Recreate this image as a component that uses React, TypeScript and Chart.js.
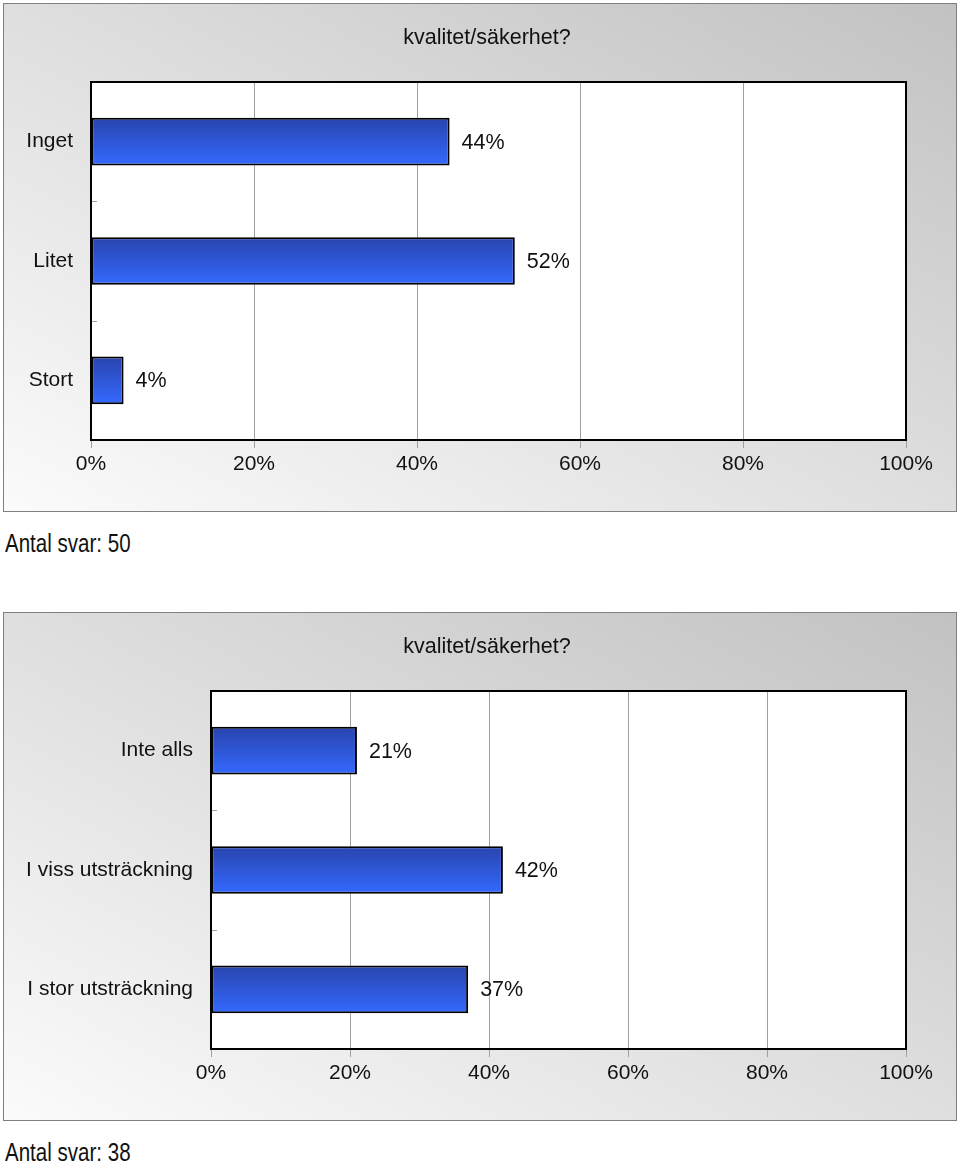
import React, { useEffect, useRef } from "react";
import { Chart, registerables } from "chart.js";

Chart.register(...registerables);

const TITLE = "kvalitet/säkerhet?";
const categories1 = ["Inget", "Litet", "Stort"];
const values1 = [44, 52, 4];
const respondents1 = 50;
const categories2 = ["Inte alls", "I viss utsträckning", "I stor utsträckning"];
const values2 = [21, 42, 37];
const respondents2 = 38;
const xTicks = [0, 20, 40, 60, 80, 100];

const FONT = "'Liberation Sans', Arial, Helvetica, sans-serif";

type PanelProps = {
  categories: string[];
  values: number[];
  leftWidth: number;
  top: number;
  respondents: number;
};

function BarPanel({ categories, values, leftWidth, top, respondents }: PanelProps) {
  const ref = useRef<HTMLCanvasElement>(null);
  useEffect(() => {
    const canvas = ref.current!;
    const bgPlugin = {
      id: "bgPlugin",
      beforeDraw(chart: any) {
        const { ctx, chartArea: a } = chart;
        ctx.save();
        ctx.fillStyle = "#ffffff";
        ctx.fillRect(a.left, a.top, a.right - a.left, a.bottom - a.top);
        ctx.restore();
      },
      beforeDatasetsDraw(chart: any) {
        const { ctx, chartArea: a } = chart;
        const ys = chart.scales.y;
        ctx.save();
        ctx.strokeStyle = "#a0a0a0";
        ctx.lineWidth = 1;
        for (let i = 0; i < categories.length - 1; i++) {
          const yb = Math.round((ys.getPixelForValue(i) + ys.getPixelForValue(i + 1)) / 2) + 0.5;
          ctx.beginPath();
          ctx.moveTo(a.left, yb);
          ctx.lineTo(a.left + 6, yb);
          ctx.stroke();
        }
        ctx.restore();
      },
      afterDraw(chart: any) {
        const { ctx, chartArea: a } = chart;
        ctx.save();
        ctx.strokeStyle = "#000";
        ctx.lineWidth = 2;
        ctx.strokeRect(a.left, a.top, a.right - a.left, a.bottom - a.top);
        ctx.restore();
      },
    };
    const labelPlugin = {
      id: "labelPlugin",
      afterDatasetsDraw(chart: any) {
        const { ctx } = chart;
        const meta = chart.getDatasetMeta(0);
        ctx.save();
        ctx.font = `21.5px ${FONT}`;
        ctx.fillStyle = "#111";
        ctx.textAlign = "left";
        ctx.textBaseline = "middle";
        meta.data.forEach((el: any, i: number) => {
          ctx.fillText(values[i] + "%", el.x + 12, el.y + 1);
        });
        ctx.restore();
      },
    };
    const chart = new Chart(canvas, {
      type: "bar",
      data: {
        labels: categories,
        datasets: [
          {
            data: values,
            backgroundColor: (c: any) => {
              const ch = c.chart;
              const area = ch.chartArea;
              if (!area || c.type !== "data") return "#2f5ae0";
              const yc = ch.scales.y.getPixelForValue(c.dataIndex);
              const band = (area.bottom - area.top) / categories.length;
              const half = band * 0.2;
              const g = ch.ctx.createLinearGradient(0, yc - half, 0, yc + half);
              g.addColorStop(0, "#2944ad");
              g.addColorStop(1, "#3469ff");
              return g;
            },
            borderColor: "#000",
            borderWidth: 2,
            borderSkipped: false,
            barPercentage: 0.8,
            categoryPercentage: 0.5,
          } as any,
        ],
      },
      options: {
        indexAxis: "y",
        responsive: false,
        maintainAspectRatio: false,
        animation: false,
        layout: { padding: { top: 82, right: 54, bottom: 40, left: 0 } },
        plugins: {
          legend: { display: false },
          tooltip: { enabled: false },
          title: { display: false },
        },
        scales: {
          x: {
            min: 0,
            max: 100,
            afterBuildTicks: (s: any) => {
              s.ticks = xTicks.map((v) => ({ value: v }));
            },
            ticks: {
              callback: (v: any) => v + "%",
              color: "#111",
              font: { family: FONT, size: 21 },
              padding: 4,
              maxRotation: 0,
            },
            grid: { color: "#a0a0a0", lineWidth: 1, tickLength: 8, drawTicks: true },
            border: { display: false },
            afterFit: (s: any) => {
              s.height = 40;
            },
          },
          y: {
            grid: { display: false, drawTicks: false },
            border: { display: false },
            ticks: {
              color: "#111",
              font: { family: FONT, size: 21 },
              padding: 18,
            },
            afterFit: (s: any) => {
              s.width = leftWidth;
            },
          },
        },
      } as any,
      plugins: [bgPlugin, labelPlugin],
    });
    return () => chart.destroy();
  }, []);

  return (
    <>
      <div
        style={{
          position: "absolute",
          left: 3,
          top: top + 3,
          width: 954,
          height: 509,
          boxSizing: "border-box",
          border: "1px solid #808080",
          background: "linear-gradient(to top right, #fbfbfb, #c2c2c2)",
        }}
      />
      <canvas
        ref={ref}
        width={960}
        height={520}
        style={{ position: "absolute", left: 0, top: top, width: 960, height: 520 }}
      />
      <div
        style={{
          position: "absolute",
          left: 7,
          top: top + 24,
          width: 960,
          textAlign: "center",
          font: `21.5px ${FONT}`,
          lineHeight: "26px",
          color: "#111",
        }}
      >
        {TITLE}
      </div>
      <div
        style={{
          position: "absolute",
          left: 5,
          top: top + 527,
          fontFamily: FONT,
          fontSize: 26,
          lineHeight: "32px",
          color: "#111",
          whiteSpace: "nowrap",
          transform: "scaleX(0.79)",
          transformOrigin: "left center",
        }}
      >
        {"Antal svar: " + respondents}
      </div>
    </>
  );
}

export default function App() {
  return (
    <div style={{ position: "absolute", left: 0, top: 0, width: 960, height: 1163, background: "#fff" }}>
      <BarPanel categories={categories1} values={values1} leftWidth={91} top={0} respondents={respondents1} />
      <BarPanel categories={categories2} values={values2} leftWidth={211} top={609} respondents={respondents2} />
    </div>
  );
}
